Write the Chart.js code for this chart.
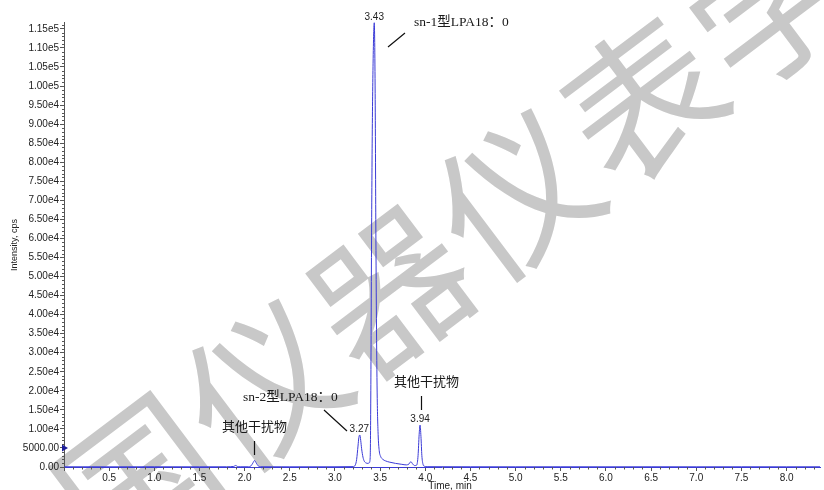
<!DOCTYPE html>
<html>
<head>
<meta charset="utf-8">
<script src="https://cdn.jsdelivr.net/npm/chart.js@4/dist/chart.umd.min.js"></script>
<style>
  body { margin: 0; background: #fff; }
  #wrap { width: 824px; height: 490px; }
</style>
</head>
<body>
<div id="wrap"><canvas id="chartXIC" width="824" height="490"></canvas></div>
<script>
const times = [0, 0.5, 1.0, 1.5, 1.8, 1.88, 1.9, 1.92, 1.95, 2.04, 2.07, 2.09, 2.11, 2.13, 2.15, 2.18,
  2.5, 3.0, 3.2, 3.225, 3.24, 3.255, 3.265, 3.275, 3.285, 3.295, 3.31, 3.325, 3.345, 3.365, 3.38,
  3.39, 3.397, 3.404, 3.412, 3.422, 3.435, 3.445, 3.452, 3.46, 3.468, 3.478, 3.49, 3.505, 3.53,
  3.56, 3.6, 3.67, 3.74, 3.79, 3.82, 3.84, 3.86, 3.88, 3.905, 3.92, 3.932, 3.942, 3.952, 3.962,
  3.975, 3.99, 4.02, 4.5, 5.0, 5.5, 6.0, 6.5, 7.0, 7.5, 8.0, 8.37];
const intensity = [60, 50, 60, 50, 60, 150, 400, 150, 60, 60, 300, 1000, 1700, 1000, 300, 60,
  50, 60, 100, 500, 2000, 5500, 7800, 8400, 7000, 4800, 2600, 1500, 1050, 950, 1100,
  2500, 20000, 55000, 85000, 106000, 116600, 98000, 65000, 36000, 18000, 8500, 4300, 2800, 2000,
  1600, 1300, 950, 700, 550, 800, 1400, 800, 380, 500, 3000, 8500, 11000, 8000, 3000,
  700, 200, 80, 60, 50, 60, 50, 60, 50, 60, 50, 60];

// ticks de los ejes
const xTickValues = [0, 0.5, 1.0, 1.5, 2.0, 2.5, 3.0, 3.5, 4.0, 4.5, 5.0, 5.5, 6.0, 6.5, 7.0, 7.5, 8.0];
const yTickValues = [0, 5000, 10000, 15000, 20000, 25000, 30000, 35000, 40000, 45000, 50000, 55000,
  60000, 65000, 70000, 75000, 80000, 85000, 90000, 95000, 100000, 105000, 110000, 115000];

// picos etiquetados
const peakTimes = [3.435, 3.27, 3.942];
const peakHeights = [116600, 8400, 11000];
const peakLabels = ['3.43', '3.27', '3.94'];

// marcador de umbral en el eje Y
const markerTime = [0];
const markerLevel = [5000];

const yMax = 116800;
const xMax = 8.37;

function fmtY(v) {
  if (v === 0) return '0.00';
  if (v < 10000) return v.toFixed(2);
  return v.toExponential(2).replace('e+', 'e');
}

// marca de agua de fondo
const watermarkPlugin = {
  id: 'watermark',
  beforeDraw(chart) {
    const ctx = chart.ctx;
    const chars = '中国仪器仪表学会';
    const a = -37 * Math.PI / 180;
    const step = 158;
    ctx.save();
    ctx.fillStyle = '#c8c8c8';
    ctx.font = '155px "Noto Sans CJK SC"';
    ctx.textAlign = 'center';
    ctx.textBaseline = 'middle';
    for (let i = 0; i < chars.length; i++) {
      const cx = 390 + (i - 3) * step * Math.cos(a);
      const cy = 290 + (i - 3) * step * Math.sin(a);
      ctx.save();
      ctx.translate(cx, cy);
      ctx.rotate(a);
      ctx.fillText(chars[i], 0, 0);
      ctx.restore();
    }
    ctx.restore();
  }
};

// ticks menores, títulos de ejes y anotaciones
const decorPlugin = {
  id: 'decor',
  afterDraw(chart) {
    const ctx = chart.ctx;
    const xs = chart.scales.x, ys = chart.scales.y;
    const area = chart.chartArea;
    ctx.save();
    ctx.strokeStyle = '#555';
    ctx.lineWidth = 1;
    ctx.beginPath();
    for (let v = 1000; v < yMax; v += 1000) {
      if (v % 5000 === 0) continue;
      const py = Math.round(ys.getPixelForValue(v)) + 0.5;
      ctx.moveTo(area.left - 2, py);
      ctx.lineTo(area.left, py);
    }
    for (let k = 1; k * 0.1 < xMax; k++) {
      if (k % 5 === 0) continue;
      const px = Math.round(xs.getPixelForValue(k * 0.1)) + 0.5;
      ctx.moveTo(px, area.bottom);
      ctx.lineTo(px, area.bottom + 2.5);
    }
    ctx.stroke();

    // títulos
    ctx.fillStyle = '#222';
    ctx.font = '9px "Liberation Sans"';
    ctx.textAlign = 'center';
    ctx.textBaseline = 'middle';
    ctx.save();
    ctx.translate(15, 245);
    ctx.rotate(-Math.PI / 2);
    ctx.fillText('Intensity, cps', 0, 0);
    ctx.restore();
    ctx.font = '10px "Liberation Sans"';
    ctx.fillText('Time, min', 450, 486);

    // etiquetas de picos
    ctx.font = '10px "Liberation Sans"';
    ctx.textBaseline = 'bottom';
    for (let i = 0; i < peakTimes.length; i++) {
      ctx.fillText(peakLabels[i], xs.getPixelForValue(peakTimes[i]), ys.getPixelForValue(peakHeights[i]) - 1);
    }

    // anotaciones
    ctx.fillStyle = '#1a1a1a';
    ctx.textAlign = 'left';
    ctx.textBaseline = 'middle';
    ctx.font = '13.5px "Liberation Serif", "Noto Sans CJK SC"';
    ctx.fillText('sn-1型LPA18：0', 414, 22);
    ctx.fillText('sn-2型LPA18：0', 243, 397);
    ctx.font = '13px "Liberation Serif", "Noto Sans CJK SC"';
    ctx.fillText('其他干扰物', 222, 428);
    ctx.fillText('其他干扰物', 394, 383);

    ctx.strokeStyle = '#111';
    ctx.lineWidth = 1.2;
    ctx.beginPath();
    ctx.moveTo(388, 47); ctx.lineTo(405, 33);
    ctx.moveTo(324, 410); ctx.lineTo(347, 431);
    ctx.moveTo(254.5, 441); ctx.lineTo(254.5, 455);
    ctx.moveTo(421.5, 396); ctx.lineTo(421.5, 410);
    ctx.stroke();
    ctx.restore();
  }
};

const ctx = document.getElementById('chartXIC').getContext('2d');
new Chart(ctx, {
  type: 'line',
  data: {
    datasets: [
      {
        data: times.map((t, i) => ({ x: t, y: intensity[i] })),
        borderColor: '#3a3ad6',
        borderWidth: 1,
        pointRadius: 0,
        cubicInterpolationMode: 'monotone',
        fill: false
      },
      {
        type: 'scatter',
        data: markerTime.map((t, i) => ({ x: t, y: markerLevel[i] })),
        pointStyle: 'triangle',
        rotation: 90,
        pointRadius: 4,
        backgroundColor: '#1d1d9a',
        borderColor: '#1d1d9a',
        borderWidth: 0,
        clip: false
      }
    ]
  },
  options: {
    responsive: false,
    animation: false,
    layout: { padding: { top: 22, right: 2, left: 0, bottom: 0 } },
    plugins: { legend: { display: false }, tooltip: { enabled: false } },
    scales: {
      x: {
        type: 'linear',
        min: 0,
        max: xMax,
        afterFit: function(scale) { scale.height = 23; },
        afterBuildTicks: function(scale) { scale.ticks = xTickValues.map(v => ({ value: v })); },
        border: { color: '#3a3ad6', width: 1 },
        grid: { drawOnChartArea: false, tickLength: 4, color: '#555' },
        ticks: {
          maxRotation: 0,
          autoSkip: false,
          padding: 1,
          color: '#222',
          font: { family: 'Liberation Sans', size: 10 },
          callback: function(value) {
            return value === 0 ? '' : value.toFixed(1);
          }
        }
      },
      y: {
        min: 0,
        max: yMax,
        afterFit: function(scale) { scale.width = 64; },
        afterBuildTicks: function(scale) { scale.ticks = yTickValues.map(v => ({ value: v })); },
        border: { color: '#555', width: 1 },
        grid: { drawOnChartArea: false, tickLength: 4, color: '#555' },
        ticks: {
          autoSkip: false,
          padding: 1,
          color: '#222',
          font: { family: 'Liberation Sans', size: 10 },
          callback: function(value) { return fmtY(value); }
        }
      }
    }
  },
  plugins: [watermarkPlugin, decorPlugin]
});
</script>
</body>
</html>
